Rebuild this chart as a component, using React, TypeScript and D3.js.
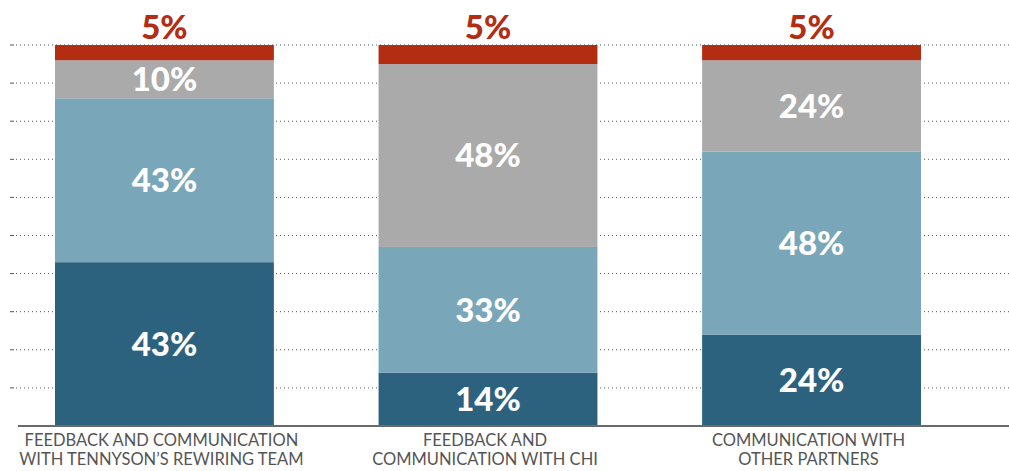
import React from "react";
import * as d3 from "d3";

const categories = [
  ["FEEDBACK AND COMMUNICATION", "WITH TENNYSON\u2019S REWIRING TEAM"],
  ["FEEDBACK AND", "COMMUNICATION WITH CHI"],
  ["COMMUNICATION WITH", "OTHER PARTNERS"],
];
const seriesKeys = ["s1", "s2", "s3", "s4"];
const s1 = [43, 14, 24];
const s2 = [43, 33, 48];
const s3 = [10, 48, 24];
const s4 = [5, 5, 5];
const gridTicks = [10, 20, 30, 40, 50, 60, 70, 80, 90, 100];

const colors = ["#2d627e", "#79a6b9", "#aaaaaa", "#b32d13"];

export default function App() {
  const W = 1009, H = 471;
  const y = d3.scaleLinear().domain([0, 100]).range([426, 45]);
  const x = d3.scaleBand<number>().domain([0, 1, 2]).range([55, 921]).paddingInner(0.3235).paddingOuter(0);
  const rows = [0, 1, 2].map((i) => ({ i, s1: s1[i], s2: s2[i], s3: s3[i], s4: s4[i] }));
  const stack = d3.stack<any>().keys(seriesKeys)(rows);
  const bw = x.bandwidth();

  return (
    <svg width={W} height={H} style={{ position: "absolute", left: 0, top: 0, background: "#fff" }}>
      {gridTicks.map((t) => (
        <g key={t}>
          <line x1={10} x2={14} y1={y(t)} y2={y(t)} stroke="#555" strokeWidth={1} />
          <line x1={16} x2={W} y1={y(t)} y2={y(t)} stroke="#555" strokeWidth={1} strokeDasharray="1,3" />
        </g>
      ))}
      {stack.map((layer, li) =>
        layer.map((d, i) => {
          const top = Math.min(100, d[1]);
          const bot = Math.min(100, d[0]);
          const x0 = x(i) as number;
          return (
            <rect key={li + "-" + i} x={x0} y={y(top)} width={bw} height={y(bot) - y(top)} fill={colors[li]} />
          );
        })
      )}
      <line x1={18} x2={W} y1={y(0)} y2={y(0)} stroke="#6b6b6b" strokeWidth={2} />
      {stack.map((layer, li) =>
        layer.map((d, i) => {
          const top = Math.min(100, d[1]);
          const bot = Math.min(100, d[0]);
          const cx = (x(i) as number) + bw / 2;
          const val = d[1] - d[0];
          if (li === 3) {
            return (
              <text key={"t" + li + i} x={cx} y={39} textAnchor="middle" fill="#b32d13"
                fontFamily="Lato" fontWeight={900} fontSize={33}>{val}%</text>
            );
          }
          return (
            <text key={"t" + li + i} x={cx} y={(y(top) + y(bot)) / 2} dy="0.36em" textAnchor="middle" fill="#fff"
              fontFamily="Lato" fontWeight={900} fontSize={33}>{val}%</text>
          );
        })
      )}
      {categories.map((lines, i) => {
        const cx = (x(i) as number) + bw / 2 - 3;
        return (
          <text key={"c" + i} textAnchor="middle" fill="#555" fontFamily="Lato" fontWeight={400} fontSize={16.5}>
            {lines.map((l, k) => (
              <tspan key={k} x={cx} y={446 + k * 19}>{l}</tspan>
            ))}
          </text>
        );
      })}
    </svg>
  );
}
